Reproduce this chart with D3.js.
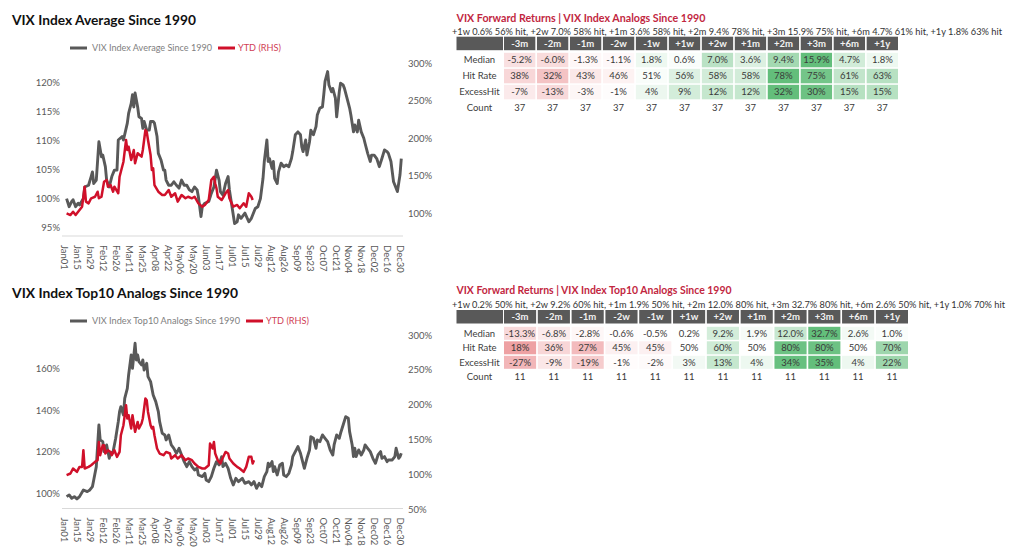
<!DOCTYPE html>
<html><head><meta charset="utf-8">
<script src="https://cdn.jsdelivr.net/npm/d3@7"></script>
<style>
body{margin:0;background:#fff;}
svg{display:block;font-family:Lato,'Open Sans',sans-serif;}
</style>
</head><body>
<svg id="c" width="1024" height="559"></svg>
<script>
// ---------- DATA ----------
const xTickLabels = ["Jan01","Jan15","Jan29","Feb12","Feb26","Mar11","Mar25","Apr08","Apr22","May06","May20","Jun03","Jun17","Jul01","Jul15","Jul29","Aug12","Aug26","Sep09","Sep23","Oct07","Oct21","Nov04","Nov18","Dec02","Dec16","Dec30"];
const xTickDays = xTickLabels.map((_, i) => i * 10); // business-day index of each label

// Chart 1: VIX Index Average Since 1990 (left axis) — business-day index / value %
const avgDays = [2,4,6,7,9,11,12,15,16,19,21,22,23,25,27,29,30,32,33,35,37,39,41,42,45,46,49,50,52,53,54,55,57,58,60,61,62,64,66,67,69,70,72,73,75,77,78,79,81,83,85,87,89,91,93,95,97,99,101,103,104,106,107,109,112,114,116,118,120,121,123,125,127,128,130,132,134,135,137,140,143,145,148,150,152,154,155,157,158,159,161,162,163,165,166,168,170,172,174,176,177,179,181,183,184,185,187,188,190,191,193,195,196,198,200,201,202,204,205,207,208,210,211,213,214,216,217,219,221,222,224,225,227,228,230,232,233,235,237,238,240,242,244,246,248,250,251,253,255,257,258,260,261];
const avgVals = [99.9,98.5,99.4,99.7,98.5,99.1,98.8,99.9,101.9,102.2,103.7,104.5,102.5,103.1,109.7,107.1,107.4,105.4,103.1,101.9,103.7,104.8,104.8,110.0,110.6,110.0,112.9,114.6,116.3,117.8,115.7,118.1,115.7,114.0,113.7,112.0,113.2,111.7,111.7,113.2,113.2,112.9,110.6,107.7,106.6,104.8,104.8,103.1,102.2,102.2,102.8,102.2,101.7,103.1,102.2,102.2,101.4,101.1,101.9,101.4,100.2,96.8,98.5,99.1,99.4,100.8,101.9,104.8,103.1,101.1,100.5,102.5,103.7,101.4,98.5,95.6,95.9,97.1,96.5,97.4,95.9,96.5,98.2,98.5,99.9,103.4,106.3,110.0,106.3,106.8,105.1,106.3,103.4,102.5,104.5,106.0,105.4,105.7,105.4,106.8,108.0,110.9,111.4,110.9,108.8,108.0,110.0,107.4,109.7,111.7,110.9,112.3,114.3,115.5,115.7,117.8,120.1,121.8,119.5,118.3,118.9,117.2,114.0,118.3,119.8,119.5,118.9,117.2,115.5,114.3,111.4,112.6,111.4,113.4,111.4,110.3,109.4,107.7,106.3,107.4,107.4,106.8,105.4,106.8,108.3,108.0,107.7,106.3,102.8,101.7,101.1,104.0,106.8];
// YTD (right axis)
const avgYtdDays = [2,5,7,9,12,14,16,17,19,21,24,26,27,29,31,33,34,36,38,39,42,43,45,46,48,49,50,52,54,55,57,60,61,63,64,65,67,68,69,70,73,76,78,81,83,86,88,91,94,96,99,101,104,107,109,112,114,116,117,118,119,122,125,127,128,131,134,136,139,141,143,145,146];
const avgYtdVals = [99.6,97.3,101.7,97.3,104,108.4,135.1,115.1,112.9,119.6,121.7,128.4,119.6,121.7,141.7,144,135.1,137.3,128.4,135.1,126.3,148.4,161.7,168.4,197.3,184,188.4,170.7,184,166.3,179.6,175.1,184,210.7,208.4,197.3,177.3,157.3,159.6,137.3,128.4,124,124,130.7,121.7,126.3,115.1,124,119.6,121.7,119.6,121.7,112.9,108.4,110.7,117.3,144,148.4,139.6,132.9,121.7,117.3,126.3,130.7,119.6,108.4,110.7,106.3,112.9,108.4,126.3,121.7,117.3];

// Chart 2: VIX Index Top10 Analogs Since 1990
const topDays = [2,4,6,8,10,12,15,18,20,22,23,25,27,28,30,31,33,35,36,38,40,42,43,44,46,47,49,50,51,52,53,55,56,57,58,60,61,62,64,65,67,69,71,73,74,76,78,79,81,83,85,87,89,91,93,95,97,99,101,103,104,107,109,110,112,114,116,118,120,122,123,125,127,129,131,133,135,138,140,143,145,147,149,151,153,155,157,158,159,161,162,163,165,167,169,170,172,174,176,177,179,181,183,184,186,188,190,191,193,195,196,198,200,202,204,206,208,209,211,213,214,216,218,220,221,223,224,225,226,228,230,232,233,235,237,239,241,243,245,246,248,250,251,254,256,257,259,260,261];
const topVals = [98.4,99.2,97.6,98.4,97.3,98.4,101.6,100.8,101.6,103.2,106.4,112.8,132.8,125.6,124.8,120.0,123.2,116.8,119.2,120.0,126.4,134.4,139.2,141.6,137.6,145.6,150.4,156.8,161.6,166.4,160.0,172.0,164.0,166.4,163.2,161.6,164.0,159.2,162.4,156.0,153.6,147.2,144.0,139.2,134.4,128.8,128.0,125.6,128.0,123.2,121.6,119.2,121.6,118.4,115.2,112.8,115.2,112.8,111.2,112.0,108.8,108.0,109.6,106.4,105.6,108.0,112.0,115.2,113.6,117.6,112.8,114.4,112.0,107.2,104.0,107.2,105.6,107.2,104.8,105.6,104.0,105.6,102.4,104.8,103.2,108.0,110.4,114.4,112.8,115.2,110.4,112.8,108.8,113.6,114.4,108.8,108.0,109.6,113.6,117.6,120.0,122.4,119.2,116.8,112.0,116.8,120.8,127.2,126.4,121.6,125.6,124.8,128.0,126.4,124.8,120.8,118.4,123.2,128.0,126.4,128.8,132.8,136.8,136.0,129.6,123.2,117.6,121.6,117.6,120.8,118.4,120.8,123.2,121.6,120.0,116.8,114.4,118.4,120.0,116.8,117.6,115.2,116.0,116.0,117.6,121.6,116.8,117.6,119.2];
const topYtdDays = [2,5,7,10,12,14,15,16,19,21,24,26,27,28,30,31,32,34,36,37,39,41,43,44,46,48,49,50,52,53,55,57,58,60,61,63,64,65,67,68,69,70,72,74,77,79,82,83,86,88,91,94,96,99,101,104,107,109,112,113,115,116,117,119,121,122,125,127,128,131,134,136,139,141,143,145,146,147];
const topYtdVals = [98.6,101.0,108.2,103.3,110.5,110.5,134.5,108.2,110.5,112.9,117.7,120.1,146.4,127.3,141.7,141.7,129.7,134.5,132.0,127.3,134.5,124.9,132.0,156.0,170.4,199.1,180.0,184.8,165.7,184.8,160.8,175.1,165.7,172.8,180.0,208.8,206.3,189.5,170.4,165.7,168.0,156.0,136.9,129.7,127.3,132.0,129.7,122.6,127.3,122.6,127.3,120.1,122.6,120.1,115.4,110.5,108.2,108.2,112.9,144.1,136.9,146.4,129.7,120.1,115.4,120.1,132.0,129.7,122.6,115.4,110.5,108.2,103.3,110.5,124.9,124.9,115.4,120.1];

const avgLeftTicks = [95,100,105,110,115,120];
const avgRightTicks = [100,150,200,250,300];
const topLeftTicks = [100,120,140,160];
const topRightTicks = [50,100,150,200,250,300];

// Tables
const horizons = ["-3m","-2m","-1m","-2w","-1w","+1w","+2w","+1m","+2m","+3m","+6m","+1y"];
const rowNames = ["Median","Hit Rate","ExcessHit","Count"];
const t1Median = [-5.2,-6.0,-1.3,-1.1,1.8,0.6,7.0,3.6,9.4,15.9,4.7,1.8];
const t1Hit    = [38,32,43,46,51,56,58,58,78,75,61,63];
const t1Excess = [-7,-13,-3,-1,4,9,12,12,32,30,15,15];
const t1Count  = [37,37,37,37,37,37,37,37,37,37,37,37];
const t2Median = [-13.3,-6.8,-2.8,-0.6,-0.5,0.2,9.2,1.9,12.0,32.7,2.6,1.0];
const t2Hit    = [18,36,27,45,45,50,60,50,80,80,50,70];
const t2Excess = [-27,-9,-19,-1,-2,3,13,4,34,35,4,22];
const t2Count  = [11,11,11,11,11,11,11,11,11,11,11,11];

// ---------- DRAW ----------
const svg = d3.select("#c");
const GRAY = "#595959", RED = "#d0102a", AXIS_TXT = "#595959";

function drawChart(o) {
  const g = svg.append("g");
  g.append("text").attr("x", 12).attr("y", o.titleY).text(o.title)
    .attr("font-size", 14).attr("font-weight", 700).attr("fill", "#111")
    .attr("textLength", o.titleLen).attr("lengthAdjust", "spacingAndGlyphs");
  // legend
  const ly = o.legendY;
  g.append("line").attr("x1", 70).attr("x2", 87).attr("y1", ly).attr("y2", ly).attr("stroke", GRAY).attr("stroke-width", 3);
  g.append("text").attr("x", 92).attr("y", ly).attr("dy", "0.35em").text(o.legend)
    .attr("font-size", 9).attr("fill", "#808080").attr("textLength", o.legendLen).attr("lengthAdjust", "spacingAndGlyphs");
  const rx = 92 + o.legendLen + 6;
  g.append("line").attr("x1", rx).attr("x2", rx + 17).attr("y1", ly).attr("y2", ly).attr("stroke", RED).attr("stroke-width", 3);
  g.append("text").attr("x", rx + 20).attr("y", ly).attr("dy", "0.35em").text("YTD (RHS)")
    .attr("font-size", 9).attr("fill", "#d04055").attr("textLength", 43).attr("lengthAdjust", "spacingAndGlyphs");

  const x = d3.scaleLinear().domain([0, 260]).range([64, 400]);
  const yL = d3.scaleLinear().domain(o.leftDom).range(o.leftRange);
  const yR = d3.scaleLinear().domain(o.rightDom).range(o.rightRange);

  // baseline + x axis
  const xa = g.append("g").attr("transform", `translate(0,${o.baseY})`)
    .call(d3.axisBottom(x).tickValues(xTickDays).tickFormat((d, i) => xTickLabels[i]).tickSize(0));
  xa.select(".domain").attr("d", `M62,0H403`).attr("stroke", "#d9d9d9");
  xa.selectAll("text").attr("transform", "rotate(90)").attr("x", 9).attr("y", 0).attr("dy", "0.35em")
    .style("text-anchor", "start").attr("font-size", 9.5).attr("fill", AXIS_TXT).attr("font-family", "Lato,'Open Sans',sans-serif");

  const la = g.append("g").attr("transform", "translate(60,0)")
    .call(d3.axisLeft(yL).tickValues(o.leftTicks).tickFormat(d => d + "%").tickSize(0).tickPadding(0));
  la.select(".domain").remove();
  la.selectAll("text").attr("font-size", 9.5).attr("fill", AXIS_TXT).attr("font-family", "Lato,'Open Sans',sans-serif");

  const ra = g.append("g").attr("transform", "translate(408,0)")
    .call(d3.axisRight(yR).tickValues(o.rightTicks).tickFormat(d => d + "%").tickSize(0).tickPadding(0));
  ra.select(".domain").remove();
  ra.selectAll("text").attr("font-size", 9.5).attr("fill", AXIS_TXT).attr("font-family", "Lato,'Open Sans',sans-serif");

  g.append("path").datum(d3.zip(o.days, o.vals))
    .attr("d", d3.line().x(d => x(d[0])).y(d => yL(d[1])))
    .attr("fill", "none").attr("stroke", GRAY).attr("stroke-width", 2.9).attr("stroke-linejoin", "round");
  g.append("path").datum(d3.zip(o.ytdDays, o.ytdVals))
    .attr("d", d3.line().x(d => x(d[0])).y(d => yR(d[1])))
    .attr("fill", "none").attr("stroke", RED).attr("stroke-width", 2.5).attr("stroke-linejoin", "round");
}

drawChart({
  title: "VIX Index Average Since 1990", titleY: 25, titleLen: 184,
  legend: "VIX Index Average Since 1990", legendLen: 120, legendY: 48,
  leftDom: [95, 120], leftRange: [227, 82], rightDom: [100, 300], rightRange: [213, 63],
  leftTicks: avgLeftTicks, rightTicks: avgRightTicks, baseY: 236,
  days: avgDays, vals: avgVals, ytdDays: avgYtdDays, ytdVals: avgYtdVals
});
drawChart({
  title: "VIX Index Top10 Analogs Since 1990", titleY: 298, titleLen: 226,
  legend: "VIX Index Top10 Analogs Since 1990", legendLen: 148, legendY: 321,
  leftDom: [100, 160], leftRange: [493.3, 368.3], rightDom: [50, 300], rightRange: [509, 335],
  leftTicks: topLeftTicks, rightTicks: topRightTicks, baseY: 508.5,
  days: topDays, vals: topVals, ytdDays: topYtdDays, ytdVals: topYtdVals
});

function drawTable(o) {
  const g = svg.append("g");
  g.append("text").attr("x", 456.5).attr("y", o.titleY).text(o.title)
    .attr("font-size", 11).attr("font-weight", 700).attr("fill", "#c2273f")
    .attr("textLength", o.titleLen).attr("lengthAdjust", "spacingAndGlyphs");
  const fwd = horizons.map((h, i) => ({h, m: o.median[i], hit: o.hit[i]})).filter(d => d.h.startsWith("+"));
  const sub = fwd.map(d => `${d.h} ${d.m.toFixed(1)}% ${d.hit}% hit`).join(", ");
  g.append("text").attr("x", 452).attr("y", o.subY).text(sub)
    .attr("font-size", 9).attr("fill", "#333").attr("textLength", o.subLen).attr("lengthAdjust", "spacingAndGlyphs");

  const xb = d3.scaleBand().domain(horizons).range([504, o.right]).paddingInner(0.05);
  // header
  g.append("rect").attr("x", 456.5).attr("y", o.headY).attr("width", 46.5).attr("height", o.headH).attr("fill", GRAY);
  g.selectAll(null).data(horizons).join("rect")
    .attr("x", d => xb(d)).attr("y", o.headY).attr("width", xb.bandwidth()).attr("height", o.headH).attr("fill", GRAY);
  g.selectAll(null).data(horizons).join("text")
    .attr("x", d => xb(d) + xb.bandwidth() / 2).attr("y", o.headY + o.headH / 2).attr("dy", "0.35em")
    .attr("text-anchor", "middle").attr("font-size", 9.5).attr("font-weight", 700).attr("fill", "#f2f2f2").text(d => d);

  const rows = [
    {name: rowNames[0], vals: o.median, center: 0, fmt: v => v.toFixed(1) + "%"},
    {name: rowNames[1], vals: o.hit, center: 50, fmt: v => v + "%"},
    {name: rowNames[2], vals: o.excess, center: 0, fmt: v => v + "%"},
    {name: rowNames[3], vals: o.count, center: null, fmt: v => String(v)}
  ];
  rows.forEach((r, ri) => {
    const top = o.rowY + ri * o.pitch;
    const cy = top + o.cellH / 2;
    g.append("text").attr("x", 479.5).attr("y", cy).attr("dy", "0.35em").attr("text-anchor", "middle")
      .attr("font-size", 9.5).attr("fill", "#404040").text(r.name);
    let color = () => "none";
    if (r.center !== null) {
      const M = d3.max(r.vals, v => Math.abs(v - r.center));
      const pos = d3.interpolateRgb("#ffffff", "#63be7b"), neg = d3.interpolateRgb("#ffffff", "#eea1a3");
      color = v => v >= r.center ? pos((v - r.center) / M) : neg((r.center - v) / M);
    }
    g.selectAll(null).data(r.vals).join("rect")
      .attr("x", (d, i) => xb(horizons[i])).attr("y", top).attr("width", xb.bandwidth()).attr("height", o.cellH)
      .attr("fill", d => color(d));
    g.selectAll(null).data(r.vals).join("text")
      .attr("x", (d, i) => xb(horizons[i]) + xb.bandwidth() / 2).attr("y", cy).attr("dy", "0.35em")
      .attr("text-anchor", "middle").attr("font-size", 9.5).attr("fill", "#3a3a3a").text(d => r.fmt(d));
  });
}

drawTable({
  title: "VIX Forward Returns | VIX Index Analogs Since 1990", titleY: 22, titleLen: 249,
  subY: 35, subLen: 550, headY: 36.7, headH: 13.5, rowY: 52.8, pitch: 16, cellH: 14.5, right: 898,
  median: t1Median, hit: t1Hit, excess: t1Excess, count: t1Count
});
drawTable({
  title: "VIX Forward Returns | VIX Index Top10 Analogs Since 1990", titleY: 294, titleLen: 275,
  subY: 307.5, subLen: 553, headY: 310, headH: 13.5, rowY: 326.8, pitch: 14.5, cellH: 13, right: 908,
  median: t2Median, hit: t2Hit, excess: t2Excess, count: t2Count
});
</script>
</body></html>
